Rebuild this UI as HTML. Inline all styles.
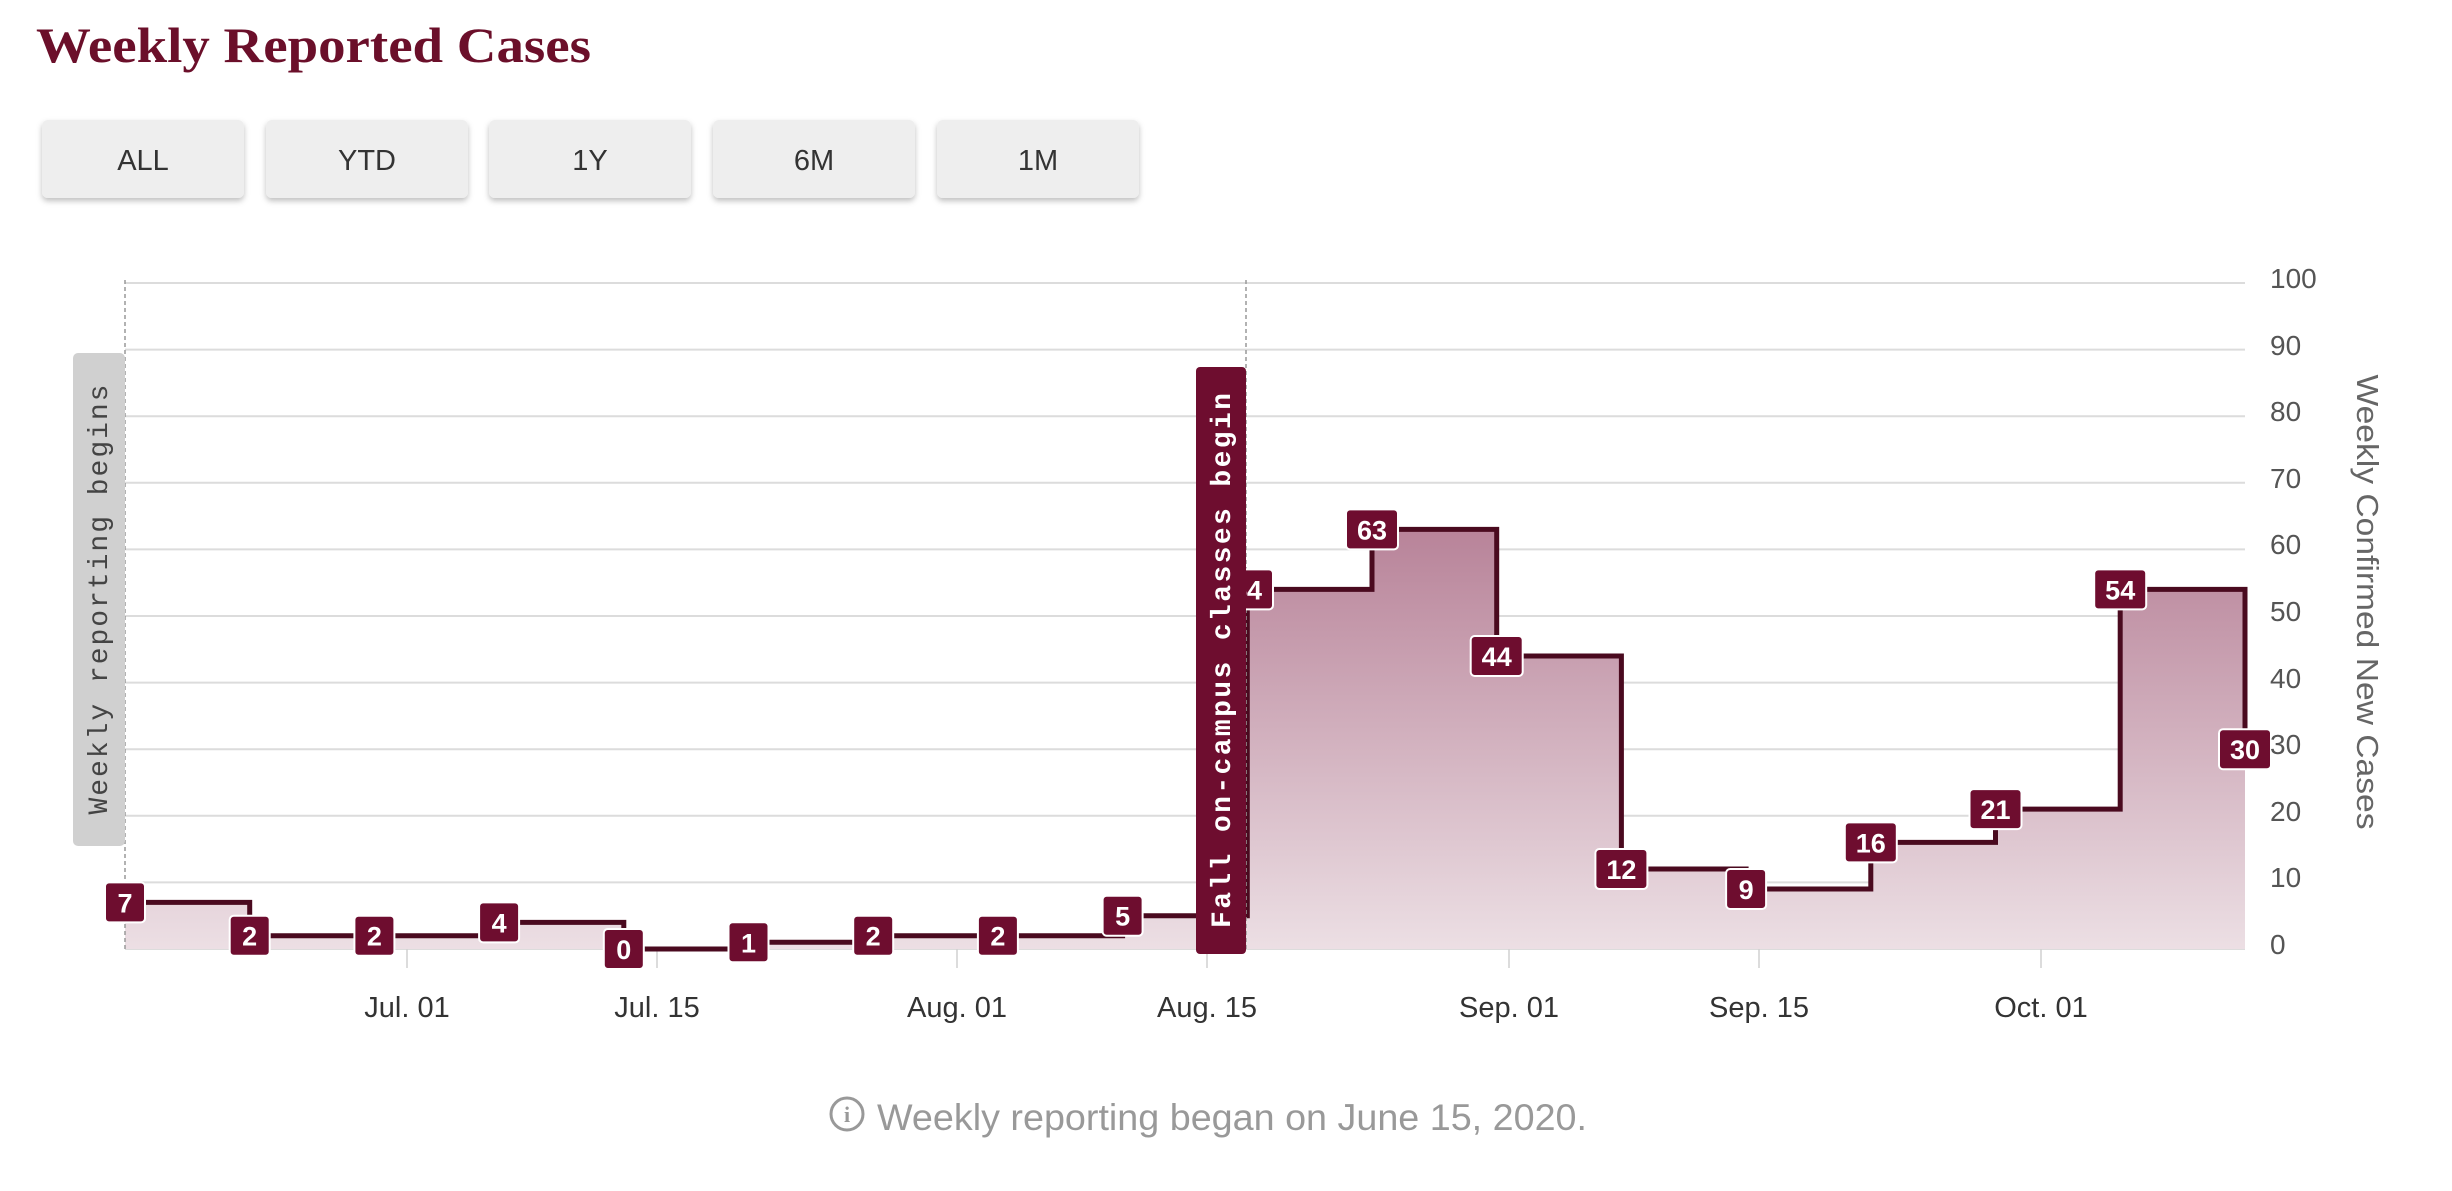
<!DOCTYPE html>
<html><head><meta charset="utf-8"><style>
html,body{margin:0;padding:0;background:#fff;width:2452px;height:1191px;overflow:hidden}
</style></head><body>
<svg width="2452" height="1191" xmlns="http://www.w3.org/2000/svg">
<defs>
<linearGradient id="g" x1="0" y1="529" x2="0" y2="949" gradientUnits="userSpaceOnUse">
<stop offset="0" stop-color="#b88399"/><stop offset="1" stop-color="#ecdfe4"/>
</linearGradient>
<filter id="sh" x="-10%" y="-10%" width="120%" height="130%"><feDropShadow dx="0" dy="3" stdDeviation="3" flood-color="#000" flood-opacity="0.25"/></filter>
</defs>
<text x="36" y="62" font-family="'Liberation Serif',serif" font-weight="bold" font-size="50" fill="#6b0f2a" textLength="555" lengthAdjust="spacingAndGlyphs">Weekly Reported Cases</text>
<g font-family="'Liberation Sans',sans-serif" font-size="29" fill="#333" text-anchor="middle">
<rect x="42" y="120" width="202" height="78" rx="6" fill="#eeeeee" filter="url(#sh)"/><text x="143" y="170">ALL</text>
<rect x="266" y="120" width="202" height="78" rx="6" fill="#eeeeee" filter="url(#sh)"/><text x="367" y="170">YTD</text>
<rect x="489" y="120" width="202" height="78" rx="6" fill="#eeeeee" filter="url(#sh)"/><text x="590" y="170">1Y</text>
<rect x="713" y="120" width="202" height="78" rx="6" fill="#eeeeee" filter="url(#sh)"/><text x="814" y="170">6M</text>
<rect x="937" y="120" width="202" height="78" rx="6" fill="#eeeeee" filter="url(#sh)"/><text x="1038" y="170">1M</text>
</g>
<g stroke="#dcdcdc" stroke-width="2">
<line x1="125" x2="2245" y1="283" y2="283"/><line x1="125" x2="2245" y1="349.6" y2="349.6"/><line x1="125" x2="2245" y1="416.2" y2="416.2"/><line x1="125" x2="2245" y1="482.8" y2="482.8"/><line x1="125" x2="2245" y1="549.4" y2="549.4"/><line x1="125" x2="2245" y1="616" y2="616"/><line x1="125" x2="2245" y1="682.6" y2="682.6"/><line x1="125" x2="2245" y1="749.2" y2="749.2"/><line x1="125" x2="2245" y1="815.8" y2="815.8"/><line x1="125" x2="2245" y1="882.4" y2="882.4"/><line x1="125" x2="2245" y1="949" y2="949"/>
</g>
<g stroke="#d0d0d0" stroke-width="1.5">
<line x1="407" x2="407" y1="949" y2="968"/><line x1="657" x2="657" y1="949" y2="968"/><line x1="957" x2="957" y1="949" y2="968"/><line x1="1207" x2="1207" y1="949" y2="968"/><line x1="1509" x2="1509" y1="949" y2="968"/><line x1="1759" x2="1759" y1="949" y2="968"/><line x1="2041" x2="2041" y1="949" y2="968"/>
</g>
<path d="M125,902.4 H249.7 V935.7 H374.4 V935.7 H499.1 V922.4 H623.8 V949 H748.5 V942.3 H873.2 V935.7 H997.9 V935.7 H1122.6 V915.7 H1247.3 V589.4 H1372 V529.4 H1496.7 V656 H1621.4 V869 H1746.1 V889 H1870.8 V842.4 H1995.5 V809.1 H2120.2 V589.4 H2245 V949 H125 Z" fill="url(#g)"/>
<path d="M125,902.4 H249.7 V935.7 H374.4 V935.7 H499.1 V922.4 H623.8 V949 H748.5 V942.3 H873.2 V935.7 H997.9 V935.7 H1122.6 V915.7 H1247.3 V589.4 H1372 V529.4 H1496.7 V656 H1621.4 V869 H1746.1 V889 H1870.8 V842.4 H1995.5 V809.1 H2120.2 V589.4 H2245 V749.2" fill="none" stroke="#4a0a1f" stroke-width="5"/>
<g stroke="#999" stroke-width="1.5" stroke-dasharray="4,3">
<line x1="125" x2="125" y1="280" y2="949"/><line x1="1246" x2="1246" y1="280" y2="949"/>
</g>
<g font-family="'Liberation Sans',sans-serif" font-weight="bold" font-size="27" fill="#fff" text-anchor="middle">
<g stroke="#fff" stroke-width="2" fill="#6e0d2f">
<rect x="105" y="882.4" width="40" height="40" rx="4"/><rect x="229.7" y="915.7" width="40" height="40" rx="4"/><rect x="354.4" y="915.7" width="40" height="40" rx="4"/><rect x="479.1" y="902.4" width="40" height="40" rx="4"/><rect x="603.8" y="929" width="40" height="40" rx="4"/><rect x="728.5" y="922.3" width="40" height="40" rx="4"/><rect x="853.2" y="915.7" width="40" height="40" rx="4"/><rect x="977.9" y="915.7" width="40" height="40" rx="4"/><rect x="1102.6" y="895.7" width="40" height="40" rx="4"/><rect x="1221" y="569.4" width="52" height="40" rx="4"/><rect x="1346" y="509.4" width="52" height="40" rx="4"/><rect x="1470.7" y="636" width="52" height="40" rx="4"/><rect x="1595.4" y="849" width="52" height="40" rx="4"/><rect x="1726.1" y="869" width="40" height="40" rx="4"/><rect x="1844.8" y="822.4" width="52" height="40" rx="4"/><rect x="1969.5" y="789.1" width="52" height="40" rx="4"/><rect x="2094.2" y="569.4" width="52" height="40" rx="4"/><rect x="2219" y="729.2" width="52" height="40" rx="4"/>
</g>
<text x="125" y="912.4">7</text><text x="249.7" y="945.7">2</text><text x="374.4" y="945.7">2</text><text x="499.1" y="932.4">4</text><text x="623.8" y="959">0</text><text x="748.5" y="952.3">1</text><text x="873.2" y="945.7">2</text><text x="997.9" y="945.7">2</text><text x="1122.6" y="925.7">5</text><text x="1247" y="599.4">54</text><text x="1372" y="539.4">63</text><text x="1496.7" y="666">44</text><text x="1621.4" y="879">12</text><text x="1746.1" y="899">9</text><text x="1870.8" y="852.4">16</text><text x="1995.5" y="819.1">21</text><text x="2120.2" y="599.4">54</text><text x="2245" y="759.2">30</text>
</g>
<rect x="73" y="353" width="52" height="493" rx="5" fill="#d0d0d0"/>
<text transform="translate(107,599.5) rotate(-90)" text-anchor="middle" font-family="'Liberation Mono',monospace" font-size="28" fill="#444" textLength="430" lengthAdjust="spacing">Weekly reporting begins</text>
<rect x="1196" y="367" width="50" height="587" rx="4" fill="#6e0d2f"/>
<text transform="translate(1230,660.5) rotate(-90)" text-anchor="middle" font-family="'Liberation Mono',monospace" font-weight="bold" font-size="28" fill="#fff" textLength="535" lengthAdjust="spacing">Fall on-campus classes begin</text>
<g font-family="'Liberation Sans',sans-serif" font-size="28" fill="#555">
<text x="2270" y="288">100</text><text x="2270" y="355">90</text><text x="2270" y="421">80</text><text x="2270" y="488">70</text><text x="2270" y="554">60</text><text x="2270" y="621">50</text><text x="2270" y="688">40</text><text x="2270" y="754">30</text><text x="2270" y="821">20</text><text x="2270" y="887">10</text><text x="2270" y="954">0</text>
</g>
<text transform="translate(2357,602) rotate(90)" text-anchor="middle" font-family="'Liberation Sans',sans-serif" font-size="31" fill="#666" textLength="455" lengthAdjust="spacingAndGlyphs">Weekly Confirmed New Cases</text>
<g font-family="'Liberation Sans',sans-serif" font-size="29" fill="#333" text-anchor="middle">
<text x="407" y="1017">Jul. 01</text><text x="657" y="1017">Jul. 15</text><text x="957" y="1017">Aug. 01</text><text x="1207" y="1017">Aug. 15</text><text x="1509" y="1017">Sep. 01</text><text x="1759" y="1017">Sep. 15</text><text x="2041" y="1017">Oct. 01</text>
</g>
<circle cx="847" cy="1114" r="16" fill="none" stroke="#999" stroke-width="3"/>
<text x="847" y="1122" text-anchor="middle" font-family="'Liberation Serif',serif" font-weight="bold" font-size="22" fill="#999">i</text>
<text x="877" y="1130" font-family="'Liberation Sans',sans-serif" font-size="37" fill="#999" textLength="710" lengthAdjust="spacingAndGlyphs">Weekly reporting began on June 15, 2020.</text>
</svg>
</body></html>
